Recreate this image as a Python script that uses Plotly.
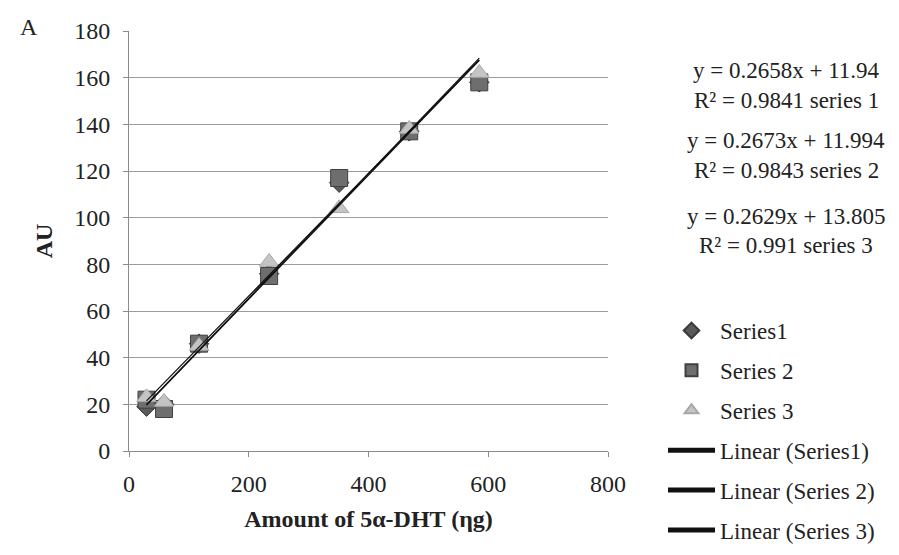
import plotly.graph_objects as go

# ---- data ----
amount_ng = [29.25, 58.5, 117, 234, 351, 468, 585]
series1 = [19, 20, 46, 76, 115, 137, 158]
series2 = [22, 18, 46, 75, 117, 137, 158]
series3 = [23, 21, 45, 81, 104, 138, 162]
slopes = [0.2658, 0.2673, 0.2629]
intercepts = [11.94, 11.994, 13.805]
r_squared = ["0.9841", "0.9843", "0.991"]
series_names = ["Series1", "Series 2", "Series 3"]
trend_names = ["Linear (Series1)", "Linear (Series 2)", "Linear (Series 3)"]
x_ticks = [0, 200, 400, 600, 800]
y_ticks = [0, 20, 40, 60, 80, 100, 120, 140, 160, 180]

FONT = "Liberation Serif"
L, R, T, B = 121, 299, 23, 112
PW, PH = 899 - L - R, 555 - T - B

fig = go.Figure()

styles = [
    dict(symbol="diamond", size=15, color="#5a5a5a", line=dict(color="#3a3a3a", width=1)),
    dict(symbol="square", size=17, color="#6e6e6e", line=dict(color="#404040", width=1)),
    dict(symbol="triangle-up", size=17, color="#c4c4c4", line=dict(color="#a8a8a8", width=1)),
]
for i, ys in enumerate([series1, series2, series3]):
    fig.add_trace(go.Scatter(
        x=amount_ng, y=ys, mode="markers", name=series_names[i],
        marker=styles[i], legendgroup=f"g{i}",
    ))

xmin, xmax = min(amount_ng), max(amount_ng)
for i in range(3):
    xs = [xmin, xmax]
    ys = [slopes[i] * v + intercepts[i] for v in xs]
    fig.add_trace(go.Scatter(
        x=xs, y=ys, mode="lines", name=trend_names[i],
        line=dict(color="#111111", width=1.3), legendgroup=f"t{i}",
    ))

# equations (one annotation per text line)
eq_line1_y = [62, 132, 208]
eq_line2_y = [93, 163, 238]
for i in range(3):
    for txt, yy in [(f"y = {slopes[i]}x + {intercepts[i]}", eq_line1_y[i]),
                    (f"R² = {r_squared[i]} series {i+1}", eq_line2_y[i])]:
        fig.add_annotation(
            xref="paper", yref="paper", x=(778 - L) / PW, y=1 - (yy - T) / PH,
            text=txt, showarrow=False, xanchor="center", yanchor="middle",
            font=dict(family=FONT, size=23, color="#222"),
        )

fig.add_annotation(
    xref="paper", yref="paper", x=(10 - L) / PW, y=1 - (19 - T) / PH, text="A",
    showarrow=False, xanchor="left", yanchor="middle",
    font=dict(family=FONT, size=24, color="#222"),
)

fig.update_layout(
    width=899, height=555,
    margin=dict(l=L, r=R, t=T, b=B, autoexpand=False),
    paper_bgcolor="white", plot_bgcolor="white",
    font=dict(family=FONT, size=24, color="#222"),
    showlegend=True,
    legend=dict(
        xref="container", yref="container",
        x=655 / 899, y=1 - 301 / 555, xanchor="left", yanchor="top",
        font=dict(family=FONT, size=23, color="#222"),
        tracegroupgap=7, itemwidth=47, bgcolor="rgba(0,0,0,0)", itemsizing="constant",
    ),
    xaxis=dict(
        range=[0, 800], tickvals=x_ticks, showgrid=False, zeroline=False,
        showline=True, linecolor="#8a8a8a", linewidth=1, automargin=False,
        ticks="outside", ticklen=5, tickcolor="#8a8a8a", ticklabelstandoff=6,
        tickfont=dict(family=FONT, size=24),
        title=dict(text="<b>Amount of 5α-DHT (ηg)</b>", font=dict(family=FONT, size=24), standoff=14),
    ),
    yaxis=dict(
        range=[0, 180], tickvals=y_ticks, showgrid=True, gridcolor="#9c9c9c", gridwidth=1,
        zeroline=False, showline=True, linecolor="#8a8a8a", linewidth=1, automargin=False,
        ticks="outside", ticklen=5, tickcolor="#8a8a8a", ticklabelstandoff=8,
        tickfont=dict(family=FONT, size=24),
        title=dict(text="<b>AU</b>", font=dict(family=FONT, size=24), standoff=14),
    ),
)

fig.write_html("out.html")
